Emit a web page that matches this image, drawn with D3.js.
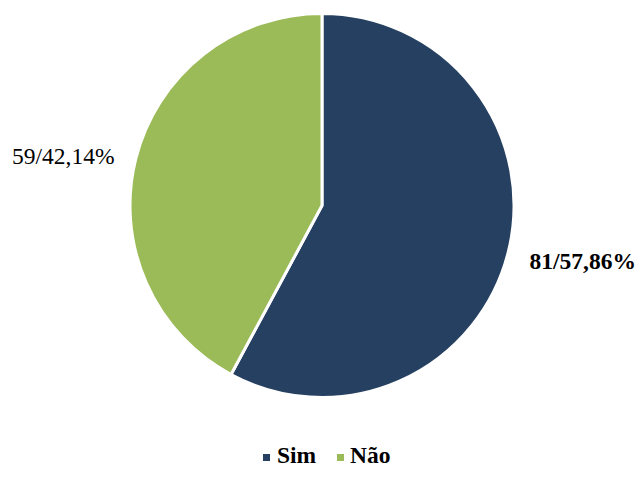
<!DOCTYPE html>
<html><head><meta charset="utf-8">
<script src="https://cdn.jsdelivr.net/npm/d3@7"></script>
<style>html,body{margin:0;padding:0;background:#fff;}svg{display:block;}</style>
</head><body>
<svg id="chart" width="637" height="491"></svg>
<script>
const categories = ["Sim", "Não"];
const values = [81, 59];
const percentLabels = ["57,86%", "42,14%"];
const colors = ["#264061", "#9BBB59"];
const labelBold = [true, false];

const svg = d3.select("#chart");
const cx = 322, cy = 205.5, R = 192;
const g = svg.append("g").attr("transform", `translate(${cx},${cy})`);

const pie = d3.pie().sort(null).value(d => d.v);
const data = pie(categories.map((c, i) => ({c, v: values[i], i})));
const arc = d3.arc().innerRadius(0).outerRadius(R);

g.selectAll("path").data(data).enter().append("path")
  .attr("d", arc)
  .attr("fill", d => colors[d.data.i])
  .attr("stroke", "#fff").attr("stroke-width", 3).attr("stroke-linejoin", "round");

const labelArc = d3.arc().innerRadius(R + 22).outerRadius(R + 22);
g.selectAll("text.lbl").data(data).enter().append("text")
  .attr("class", "lbl")
  .attr("x", d => labelArc.centroid(d)[0])
  .attr("y", d => labelArc.centroid(d)[1] + 11)
  .attr("text-anchor", d => labelArc.centroid(d)[0] > 0 ? "start" : "end")
  .attr("font-family", "'Liberation Serif','Times New Roman',serif")
  .attr("font-size", 23.5)
  .attr("font-weight", d => labelBold[d.data.i] ? "bold" : "normal")
  .attr("fill", "#000")
  .text(d => `${d.data.v}/${percentLabels[d.data.i]}`);

// legend
const legend = svg.append("g").attr("transform", "translate(0,463)");
const items = [{x: 263, tx: 277}, {x: 337, tx: 350}];
categories.forEach((c, i) => {
  legend.append("rect").attr("x", items[i].x).attr("y", -9).attr("width", 7).attr("height", 7).attr("fill", colors[i]);
  legend.append("text").attr("x", items[i].tx).attr("y", 0)
    .attr("font-family", "'Liberation Serif','Times New Roman',serif")
    .attr("font-size", 23.5).attr("font-weight", "bold").attr("fill", "#000").text(c);
});
</script>
</body></html>
